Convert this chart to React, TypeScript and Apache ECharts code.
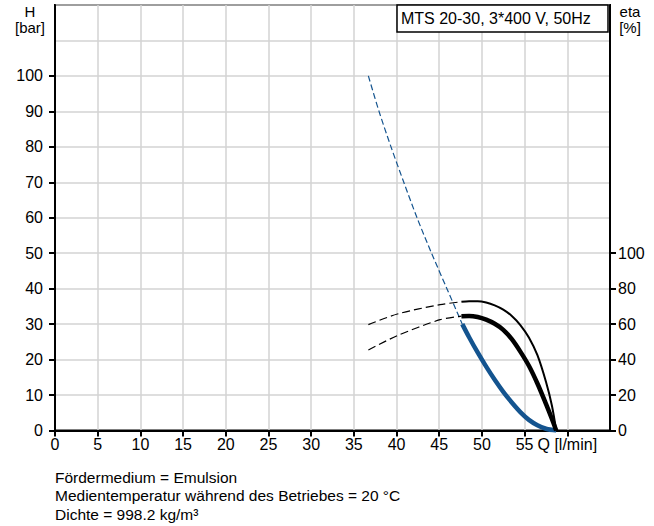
import React, { useEffect, useRef } from 'react';
import * as echarts from 'echarts';

// Axis tick values
const xTickValues = [0, 5, 10, 15, 20, 25, 30, 35, 40, 45, 50, 55, 60];
const hTickValues = [0, 10, 20, 30, 40, 50, 60, 70, 80, 90, 100];
const etaTickValues = [0, 20, 40, 60, 80, 100];
const xUnitLabel = 'Q [l/min]';

// Head curve H [bar] (blue)
const headDashedQ = [36.7, 37.95, 39.35, 40.85, 42.4, 44.1, 45.9, 47.7];
const headDashedH = [100, 90, 80, 70, 60, 50, 40, 30];
const headSolidQ = [47.7, 48.5, 49.5, 50.5, 51.5, 52.5, 53.5, 54.5, 55.5, 56.5, 57.5, 58.7];
const headSolidH = [30, 26.3, 22.0, 18.0, 14.3, 10.9, 7.9, 5.2, 3.0, 1.5, 0.5, 0];

// Efficiency curve 1 (thin black) eta [%]
const eta1DashedQ = [36.7, 40.1, 45.1, 47.6];
const eta1DashedV = [59.7, 65.7, 71.0, 72.6];
const eta1SolidQ = [47.6, 48.5, 49.5, 50.5, 51.5, 52.5, 53.5, 54.5, 55.5, 56.5, 57.5, 58.2, 58.7];
const eta1SolidV = [72.6, 72.9, 72.9, 72.2, 70.6, 68.2, 64.6, 59.5, 52.5, 42.5, 27.5, 14, 0];

// Efficiency curve 2 (thick black) eta [%]
const eta2DashedQ = [36.7, 40.1, 45.1, 47.6];
const eta2DashedV = [45.4, 53.5, 62.5, 64.5];
const eta2SolidQ = [47.6, 48.5, 49.5, 50.5, 51.5, 52.5, 53.5, 54.5, 55.5, 56.5, 57.5, 58.2, 58.7];
const eta2SolidV = [64.5, 64.6, 64.0, 62.5, 60.2, 56.8, 51.5, 44.5, 36.5, 26.5, 15, 6.5, 0];

const titleText = 'MTS 20-30, 3*400 V, 50Hz';
const leftAxisName = ['H', '[bar]'];
const rightAxisName = ['eta', '[%]'];
const footerLines = [
  'Fördermedium = Emulsion',
  'Medientemperatur während des Betriebes = 20 °C',
  'Dichte = 998.2 kg/m³',
];

const zip = (a: number[], b: number[]) => a.map((v, i) => [v, b[i]]);

const FONT = '"Liberation Sans", Arial, Helvetica, sans-serif';
const BLUE = '#14548f';

export default function App() {
  const ref = useRef<HTMLDivElement>(null);

  useEffect(() => {
    if (!ref.current) return;
    const chart = echarts.init(ref.current, undefined, { renderer: 'svg' });

    const lineBase = {
      type: 'line' as const,
      showSymbol: false,
      symbol: 'none',
      silent: true,
      smooth: 0.3,
    };

    const nameText = (txt: string, x: number, y: number) => ({
      type: 'text',
      x,
      y,
      style: { text: txt, fill: '#000', font: `15px ${FONT}`, align: 'center', verticalAlign: 'middle' },
    });

    chart.setOption({
      animation: false,
      backgroundColor: '#ffffff',
      textStyle: { fontFamily: FONT },
      grid: {
        left: 55,
        right: 44,
        top: 5,
        bottom: 95.5,
        show: true,
        borderColor: '#000',
        borderWidth: 2,
        containLabel: false,
      },
      xAxis: [
        {
          type: 'value',
          min: 0,
          max: 65,
          interval: 5,
          position: 'bottom',
          axisLine: { show: true, onZero: false, lineStyle: { color: '#000', width: 2 } },
          axisTick: {
            show: true,
            length: 6,
            inside: false,
            customValues: xTickValues,
            lineStyle: { color: '#000', width: 2 },
          },
          axisLabel: {
            show: true,
            margin: 6,
            color: '#000',
            fontSize: 16,
            fontFamily: FONT,
            customValues: xTickValues,
            formatter: (v: number) => (v === 60 ? xUnitLabel : String(v)),
          },
          splitLine: { show: true, lineStyle: { color: '#d3d3d3', width: 1.5 } },
        },
      ],
      yAxis: [
        {
          type: 'value',
          min: 0,
          max: 120,
          interval: 10,
          position: 'left',
          axisLine: { show: true, onZero: false, lineStyle: { color: '#000', width: 2 } },
          axisTick: {
            show: true,
            length: 6,
            inside: false,
            customValues: hTickValues,
            lineStyle: { color: '#000', width: 2 },
          },
          axisLabel: {
            show: true,
            margin: 12,
            color: '#000',
            fontSize: 16,
            fontFamily: FONT,
            customValues: hTickValues,
          },
          splitLine: { show: false },
        },
        {
          type: 'value',
          min: 0,
          max: 240,
          interval: 20,
          position: 'right',
          axisLine: { show: true, onZero: false, lineStyle: { color: '#000', width: 2 } },
          axisTick: {
            show: true,
            length: 6,
            inside: false,
            customValues: etaTickValues,
            lineStyle: { color: '#000', width: 2 },
          },
          axisLabel: {
            show: true,
            margin: 8,
            color: '#000',
            fontSize: 16,
            fontFamily: FONT,
            customValues: etaTickValues,
          },
          splitLine: { show: false },
        },
        {
          type: 'value',
          min: 0,
          max: 120,
          interval: 10,
          position: 'left',
          axisLine: { show: false },
          axisTick: { show: false },
          axisLabel: { show: false },
          splitLine: { show: true, lineStyle: { color: '#d3d3d3', width: 1.5 } },
          z: 0,
        },
      ],
      series: [
        {
          ...lineBase,
          name: 'H dashed',
          yAxisIndex: 0,
          data: zip(headDashedQ, headDashedH),
          lineStyle: { color: BLUE, width: 1.2, type: [6, 3] },
        },
        {
          ...lineBase,
          name: 'H',
          yAxisIndex: 0,
          data: zip(headSolidQ, headSolidH),
          lineStyle: { color: BLUE, width: 4.5 },
        },
        {
          ...lineBase,
          name: 'eta1 dashed',
          yAxisIndex: 1,
          data: zip(eta1DashedQ, eta1DashedV),
          lineStyle: { color: '#000', width: 1.2, type: [8, 4] },
        },
        {
          ...lineBase,
          name: 'eta1',
          yAxisIndex: 1,
          data: zip(eta1SolidQ, eta1SolidV),
          lineStyle: { color: '#000', width: 2 },
        },
        {
          ...lineBase,
          name: 'eta2 dashed',
          yAxisIndex: 1,
          data: zip(eta2DashedQ, eta2DashedV),
          lineStyle: { color: '#000', width: 1.2, type: [8, 4] },
        },
        {
          ...lineBase,
          name: 'eta2',
          yAxisIndex: 1,
          data: zip(eta2SolidQ, eta2SolidV),
          lineStyle: { color: '#000', width: 4.5 },
        },
      ],
      graphic: [
        {
          type: 'rect',
          shape: { x: 397, y: 5, width: 211, height: 27 },
          style: { fill: '#fff', stroke: '#000', lineWidth: 1.5 },
          z: 100,
        },
        {
          type: 'text',
          x: 401,
          y: 18.5,
          style: {
            text: titleText,
            fill: '#000',
            font: `16px ${FONT}`,
            verticalAlign: 'middle',
          },
          z: 101,
        },
        nameText(leftAxisName[0], 30, 11.5),
        nameText(leftAxisName[1], 30, 27.5),
        nameText(rightAxisName[0], 630, 11.5),
        nameText(rightAxisName[1], 630, 27.5),
        ...footerLines.map((t, i) => ({
          type: 'text',
          x: 55,
          y: 477 + i * 18.7,
          style: { text: t, fill: '#000', font: `15.5px ${FONT}`, verticalAlign: 'middle' },
        })),
      ],
    });

    return () => {
      chart.dispose();
    };
  }, []);

  return (
    <div
      ref={ref}
      style={{ position: 'absolute', left: 0, top: 0, width: 654, height: 526, background: '#fff' }}
    />
  );
}
